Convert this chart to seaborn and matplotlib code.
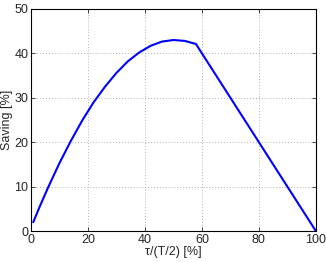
import numpy as np
import pandas as pd
import seaborn as sns
import matplotlib.pyplot as plt

# saving curve
tau = [0.8, 3, 6, 10, 14, 18, 22, 26, 30, 34, 38, 42, 46, 50, 54, 57.9, 100]
saving = [2, 5.4, 9.8, 15.3, 20.3, 24.9, 29.0, 32.5, 35.6, 38.2, 40.2, 41.7, 42.65, 43.0, 42.8, 42.1, 0]

xticks = [0, 20, 40, 60, 80, 100]
yticks = [0, 10, 20, 30, 40, 50]

sns.set_style("ticks")
plt.rcParams['font.family'] = ['Liberation Sans', 'DejaVu Sans']
plt.rcParams['font.size'] = 9

fig = plt.figure(figsize=(3.26, 2.62), dpi=100)
ax = fig.add_axes([0.095, 0.118, 0.874, 0.848])

df = pd.DataFrame({'tau': tau, 'saving': saving})
sns.lineplot(data=df, x='tau', y='saving', color='#0000ff', linewidth=1.5, sort=False, ax=ax)

ax.set_xlim(0, 100)
ax.set_ylim(0, 50)
ax.set_xticks(xticks)
ax.set_yticks(yticks)
ax.grid(True, linestyle=(0, (1, 2.5)), color='#9a9a9a', linewidth=0.6)
ax.tick_params(direction='in', length=3, width=0.6, labelsize=9, pad=2, top=True, right=True)
for s in ax.spines.values():
    s.set_visible(True)
    s.set_color('black')
    s.set_linewidth(0.8)

ax.set_xlabel('τ/(T/2) [%]', fontsize=9, labelpad=0)
ax.set_ylabel('Saving [%]', fontsize=9, labelpad=1)

fig.savefig('out.png', dpi=100)
